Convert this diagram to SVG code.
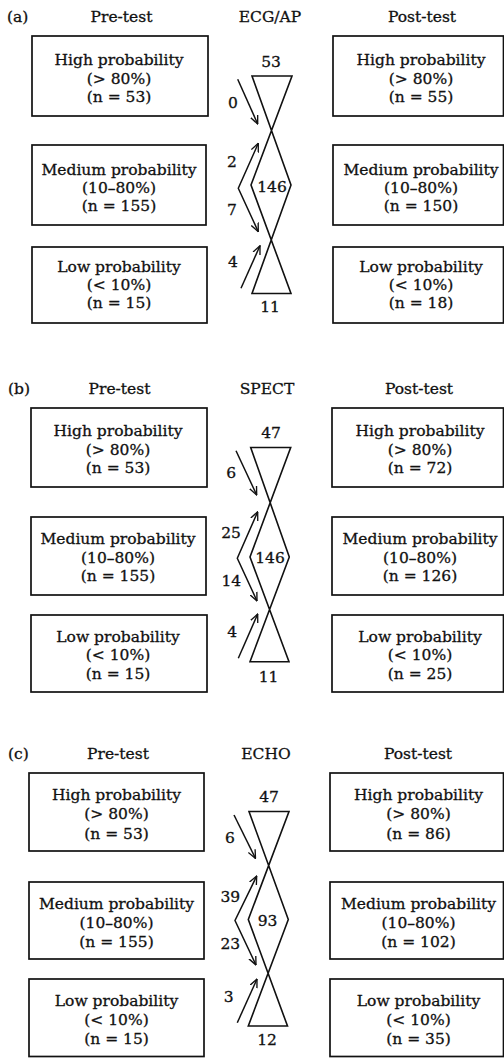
<svg xmlns="http://www.w3.org/2000/svg" width="504" height="1058" viewBox="0 0 504 1058">
<defs>
<style>
text { font-family: "DejaVu Serif", "Liberation Serif", serif; font-size: 15.5px; fill: #111; stroke: #111; stroke-width: 0.3; }
.c { text-anchor: middle; }
.box { fill: none; stroke: #111; stroke-width: 1.7; }
.hg { fill: none; stroke: #111; stroke-width: 1.6; stroke-linejoin: miter; }
.arr { fill: none; stroke: #111; stroke-width: 1.5; marker-end: url(#ah); }
.arr2 { fill: none; stroke: #111; stroke-width: 1.5; stroke-linejoin: miter; marker-start: url(#ah); marker-end: url(#ah); }
</style>
<marker id="ah" viewBox="0 0 10 10" refX="9.5" refY="5" markerWidth="9" markerHeight="9" markerUnits="userSpaceOnUse" orient="auto-start-reverse">
<path d="M0,0.8 L9.5,5 L0,9.2" fill="none" stroke="#111" stroke-width="1.5"/>
</marker>
</defs>
<rect x="0" y="0" width="504" height="1058" fill="#fff"/>

<!-- Panel (a) -->
<g id="a-header">
<text x="7" y="21.5">(a)</text>
<text class="c" x="121.5" y="21.5">Pre-test</text>
<text class="c" x="270" y="21.5">ECG/AP</text>
<text class="c" x="422" y="21.5">Post-test</text>
</g>
<g id="a-pre-high"><rect class="box" x="32" y="36" width="176" height="80"/>
<text class="c" x="119" y="65">High probability</text><text class="c" x="119" y="83.5">(&gt; 80%)</text><text class="c" x="119" y="101.5">(n = 53)</text></g>
<g id="a-pre-med"><rect class="box" x="32" y="145" width="174" height="80"/>
<text class="c" x="119" y="175">Medium probability</text><text class="c" x="119" y="193">(10–80%)</text><text class="c" x="119" y="211">(n = 155)</text></g>
<g id="a-pre-low"><rect class="box" x="32" y="247" width="175" height="76"/>
<text class="c" x="119" y="272">Low probability</text><text class="c" x="119" y="290">(&lt; 10%)</text><text class="c" x="119" y="307.5">(n = 15)</text></g>
<g id="a-post-high"><rect class="box" x="333" y="36" width="170.5" height="80"/>
<text class="c" x="421" y="65">High probability</text><text class="c" x="421" y="83.5">(&gt; 80%)</text><text class="c" x="421" y="101.5">(n = 55)</text></g>
<g id="a-post-med"><rect class="box" x="333" y="145" width="170.5" height="80"/>
<text class="c" x="421" y="175">Medium probability</text><text class="c" x="421" y="193">(10–80%)</text><text class="c" x="421" y="211">(n = 150)</text></g>
<g id="a-post-low"><rect class="box" x="333" y="247" width="170.5" height="76"/>
<text class="c" x="421" y="272">Low probability</text><text class="c" x="421" y="290">(&lt; 10%)</text><text class="c" x="421" y="307.5">(n = 18)</text></g>
<g id="a-test">
<path class="hg" d="M252,76 H292 L251,185 L291,293.5 H252 L291,185 Z"/>
<text class="c" x="271" y="66.5">53</text>
<text class="c" x="272" y="192">146</text>
<text class="c" x="270" y="311.5">11</text>
</g>

<!-- Panel (b) -->
<g id="b-header">
<text x="8" y="393.5">(b)</text>
<text class="c" x="119.5" y="393.5">Pre-test</text>
<text class="c" x="267" y="393.5">SPECT</text>
<text class="c" x="419" y="393.5">Post-test</text>
</g>
<g id="b-pre-high"><rect class="box" x="31" y="408" width="176" height="79"/>
<text class="c" x="118" y="436">High probability</text><text class="c" x="118" y="454.5">(&gt; 80%)</text><text class="c" x="118" y="473">(n = 53)</text></g>
<g id="b-pre-med"><rect class="box" x="31" y="517" width="175" height="78"/>
<text class="c" x="118" y="544">Medium probability</text><text class="c" x="118" y="562.5">(10–80%)</text><text class="c" x="118" y="581">(n = 155)</text></g>
<g id="b-pre-low"><rect class="box" x="31" y="615" width="176" height="77"/>
<text class="c" x="118" y="641.5">Low probability</text><text class="c" x="118" y="660">(&lt; 10%)</text><text class="c" x="118" y="678.5">(n = 15)</text></g>
<g id="b-post-high"><rect class="box" x="332" y="408" width="171.5" height="79"/>
<text class="c" x="420" y="436">High probability</text><text class="c" x="420" y="454.5">(&gt; 80%)</text><text class="c" x="420" y="473">(n = 72)</text></g>
<g id="b-post-med"><rect class="box" x="332" y="517" width="171.5" height="78"/>
<text class="c" x="420" y="544">Medium probability</text><text class="c" x="420" y="562.5">(10–80%)</text><text class="c" x="420" y="581">(n = 126)</text></g>
<g id="b-post-low"><rect class="box" x="332" y="615" width="171.5" height="77"/>
<text class="c" x="420" y="641.5">Low probability</text><text class="c" x="420" y="660">(&lt; 10%)</text><text class="c" x="420" y="678.5">(n = 25)</text></g>
<g id="b-test">
<path class="hg" d="M250.7,447.5 H290.7 L250,557 L289,661.7 H250 L289.3,557 Z"/>
<text class="c" x="271" y="438">47</text>
<text class="c" x="270" y="563">146</text>
<text class="c" x="268.5" y="681.5">11</text>
</g>

<!-- Panel (c) -->
<g id="c-header">
<text x="8" y="759">(c)</text>
<text class="c" x="118" y="759">Pre-test</text>
<text class="c" x="266" y="759">ECHO</text>
<text class="c" x="418" y="759">Post-test</text>
</g>
<g id="c-pre-high"><rect class="box" x="29" y="773" width="175" height="78"/>
<text class="c" x="116.5" y="800">High probability</text><text class="c" x="116.5" y="819">(&gt; 80%)</text><text class="c" x="116.5" y="838.5">(n = 53)</text></g>
<g id="c-pre-med"><rect class="box" x="29" y="882" width="175" height="77"/>
<text class="c" x="116.5" y="908.5">Medium probability</text><text class="c" x="116.5" y="927.5">(10–80%)</text><text class="c" x="116.5" y="946.5">(n = 155)</text></g>
<g id="c-pre-low"><rect class="box" x="29" y="979" width="175" height="77.5"/>
<text class="c" x="116.5" y="1005.5">Low probability</text><text class="c" x="116.5" y="1025">(&lt; 10%)</text><text class="c" x="116.5" y="1044">(n = 15)</text></g>
<g id="c-post-high"><rect class="box" x="330" y="773" width="173.5" height="78"/>
<text class="c" x="418.5" y="800">High probability</text><text class="c" x="418.5" y="819">(&gt; 80%)</text><text class="c" x="418.5" y="838.5">(n = 86)</text></g>
<g id="c-post-med"><rect class="box" x="330" y="882" width="173.5" height="77"/>
<text class="c" x="418.5" y="908.5">Medium probability</text><text class="c" x="418.5" y="927.5">(10–80%)</text><text class="c" x="418.5" y="946.5">(n = 102)</text></g>
<g id="c-post-low"><rect class="box" x="330" y="979" width="173.5" height="77.5"/>
<text class="c" x="418.5" y="1005.5">Low probability</text><text class="c" x="418.5" y="1025">(&lt; 10%)</text><text class="c" x="418.5" y="1044">(n = 35)</text></g>
<g id="c-test">
<path class="hg" d="M249,811.5 H289 L248.3,919.5 L287.5,1026 H248.3 L288.3,919.5 Z"/>
<text class="c" x="269" y="802">47</text>
<text class="c" x="267.5" y="926">93</text>
<text class="c" x="267" y="1045">12</text>
</g>

<g id="connectors">
<!-- (a) -->
<line class="arr" x1="237.7" y1="79.3" x2="257.7" y2="124"/>
<polyline class="arr2" points="258.3,143.3 238.3,188.3 258.3,231.7"/>
<line class="arr" x1="241" y1="288.3" x2="260" y2="245.7"/>
<text class="c" x="233" y="108">0</text>
<text class="c" x="232" y="166.7">2</text>
<text class="c" x="232" y="215">7</text>
<text class="c" x="233" y="267">4</text>
<!-- (b) -->
<line class="arr" x1="236" y1="450.7" x2="256.7" y2="495"/>
<polyline class="arr2" points="257.7,511.7 237.3,558.3 257,601"/>
<line class="arr" x1="238.3" y1="658.3" x2="257.7" y2="614"/>
<text class="c" x="231.3" y="478">6</text>
<text class="c" x="231" y="538">25</text>
<text class="c" x="231.3" y="586">14</text>
<text class="c" x="232.3" y="637">4</text>
<!-- (c) -->
<line class="arr" x1="234" y1="815" x2="255.5" y2="858.5"/>
<polyline class="arr2" points="256.7,876 235,920.5 256,965"/>
<line class="arr" x1="237.3" y1="1022.7" x2="257" y2="979"/>
<text class="c" x="230" y="843">6</text>
<text class="c" x="230.3" y="901.5">39</text>
<text class="c" x="230.3" y="949">23</text>
<text class="c" x="228.7" y="1001.5">3</text>
</g>
</svg>
